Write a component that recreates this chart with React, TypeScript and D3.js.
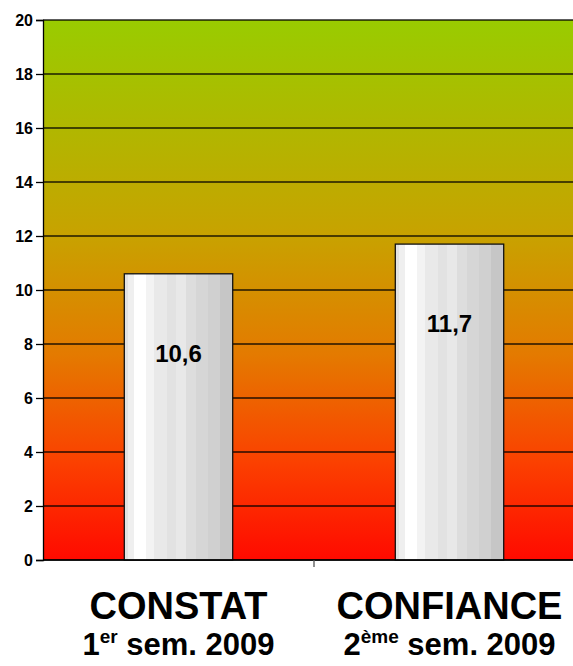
import { useRef, useEffect } from "react";
import * as d3 from "d3";

const categories = ["CONSTAT", "CONFIANCE"];
const ordinals = ["1", "2"];
const ordinalSup = ["er", "ème"];
const periodLabels = ["sem. 2009", "sem. 2009"];
const values = [10.6, 11.7];
const valueLabels = ["10,6", "11,7"];
const yTicks = [0, 2, 4, 6, 8, 10, 12, 14, 16, 18, 20];

const width = 573;
const height = 666;
const margin = { top: 20, left: 43, plotRight: 585, bottom: 560 };
const font = "'Liberation Sans', Arial, sans-serif";

export default function App() {
  const ref = useRef<SVGSVGElement | null>(null);

  useEffect(() => {
    if (!ref.current) return;
    const svg = d3.select(ref.current);
    svg.selectAll("*").remove();

    const x = d3
      .scaleBand<string>()
      .domain(categories)
      .range([margin.left, margin.plotRight])
      .paddingInner(0.6)
      .paddingOuter(0.3);
    const y = d3.scaleLinear().domain([0, 20]).range([margin.bottom, margin.top]);

    const defs = svg.append("defs");
    const bg = defs
      .append("linearGradient")
      .attr("id", "bg")
      .attr("x1", 0)
      .attr("y1", 0)
      .attr("x2", 0)
      .attr("y2", 1);
    [
      ["0%", "#99cc00"],
      ["40%", "#c8a200"],
      ["62%", "#e47a00"],
      ["82%", "#fb4000"],
      ["100%", "#ff0a00"],
    ].forEach(([o, c]) => bg.append("stop").attr("offset", o).attr("stop-color", c));

    const barG = defs
      .append("linearGradient")
      .attr("id", "bar")
      .attr("x1", 0)
      .attr("y1", 0)
      .attr("x2", 1)
      .attr("y2", 0);
    // stepped grey stripes across the bar
    const stripes: [number, number, string][] = [
      [0, 0.03, "#e2e2e2"],
      [0.03, 0.09, "#efefef"],
      [0.09, 0.2, "#ffffff"],
      [0.2, 0.27, "#f3f3f3"],
      [0.27, 0.39, "#e9e9e9"],
      [0.39, 0.48, "#e2e2e2"],
      [0.48, 0.57, "#e8e8e8"],
      [0.57, 0.66, "#dddddd"],
      [0.66, 0.77, "#d6d6d6"],
      [0.77, 0.88, "#d0d0d0"],
      [0.88, 1, "#c6c6c6"],
    ];
    stripes.forEach(([a, b, c]) => {
      barG.append("stop").attr("offset", a).attr("stop-color", c);
      barG.append("stop").attr("offset", b).attr("stop-color", c);
    });

    const g = svg.append("g");

    g.append("rect")
      .attr("x", margin.left)
      .attr("y", margin.top)
      .attr("width", margin.plotRight - margin.left)
      .attr("height", margin.bottom - margin.top)
      .attr("fill", "url(#bg)");

    // gridlines
    g.selectAll("line.grid")
      .data(yTicks)
      .join("line")
      .attr("class", "grid")
      .attr("x1", margin.left)
      .attr("x2", margin.plotRight)
      .attr("y1", (d) => y(d))
      .attr("y2", (d) => y(d))
      .attr("stroke", "#000")
      .attr("stroke-opacity", 0.85)
      .attr("stroke-width", 1.3);

    // bars
    g.selectAll("rect.bar")
      .data(values)
      .join("rect")
      .attr("class", "bar")
      .attr("x", (_, i) => x(categories[i])!)
      .attr("y", (d) => y(d))
      .attr("width", x.bandwidth())
      .attr("height", (d) => y(0) - y(d))
      .attr("fill", "url(#bar)")
      .attr("stroke", "#111")
      .attr("stroke-width", 1.3);

    g.selectAll("text.val")
      .data(values)
      .join("text")
      .attr("class", "val")
      .attr("x", (_, i) => x(categories[i])! + x.bandwidth() / 2)
      .attr("y", (d) => y(d) + 88)
      .attr("text-anchor", "middle")
      .style("font-family", font)
      .style("font-weight", "bold")
      .style("font-size", "24px")
      .style("fill", "#000")
      .text((_, i) => valueLabels[i]);

    // y axis
    const yAxis = g
      .append("g")
      .attr("transform", `translate(${margin.left},0)`)
      .call(d3.axisLeft(y).tickValues(yTicks).tickSize(7).tickPadding(3).tickFormat(d3.format("d")));
    yAxis.select(".domain").attr("stroke", "#000").attr("stroke-width", 1.3);
    yAxis.selectAll(".tick line").attr("stroke", "#000").attr("stroke-width", 1.3);
    yAxis
      .selectAll(".tick text")
      .style("font-family", font)
      .style("font-weight", "bold")
      .style("font-size", "16px")
      .style("fill", "#000");

    // x axis
    g.append("line")
      .attr("x1", margin.left)
      .attr("x2", margin.plotRight)
      .attr("y1", y(0))
      .attr("y2", y(0))
      .attr("stroke", "#000")
      .attr("stroke-width", 1.3);
    const step = x.step();
    const divider = x(categories[0])! + x.bandwidth() / 2 + step / 2;
    g.append("line")
      .attr("x1", divider)
      .attr("x2", divider)
      .attr("y1", y(0))
      .attr("y2", y(0) + 7)
      .attr("stroke", "#555")
      .attr("stroke-width", 1.3);

    const cat = g
      .selectAll("g.cat")
      .data(categories)
      .join("g")
      .attr("class", "cat")
      .attr("transform", (d) => `translate(${x(d)! + x.bandwidth() / 2},0)`);
    cat
      .append("text")
      .attr("y", 619)
      .attr("text-anchor", "middle")
      .style("font-family", font)
      .style("font-weight", "bold")
      .style("font-size", "38px")
      .text((d) => d);
    const sub = cat
      .append("text")
      .attr("y", 655)
      .attr("text-anchor", "middle")
      .style("font-family", font)
      .style("font-weight", "bold")
      .style("font-size", "31px");
    sub.append("tspan").text((_, i) => ordinals[i]);
    sub
      .append("tspan")
      .attr("dy", -12)
      .style("font-size", "19px")
      .text((_, i) => ordinalSup[i]);
    sub
      .append("tspan")
      .attr("dy", 12)
      .text((_, i) => " " + periodLabels[i]);
  }, []);

  return (
    <svg
      ref={ref}
      width={width}
      height={height}
      style={{ position: "absolute", left: 0, top: 0, background: "#fff" }}
    />
  );
}
